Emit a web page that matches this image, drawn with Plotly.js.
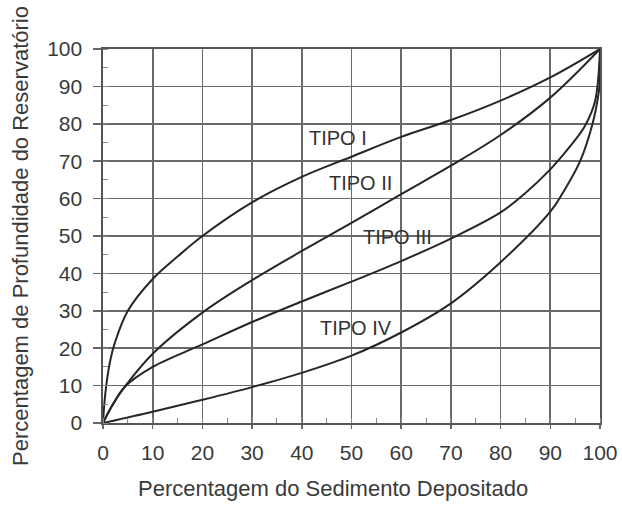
<!DOCTYPE html>
<html>
<head>
<meta charset="utf-8">
<script src="https://cdn.plot.ly/plotly-3.0.1.min.js"></script>
<style>html,body{margin:0;padding:0;background:#fff;}#chart{width:622px;height:505px;}</style>
</head>
<body>
<div id="chart"></div>
<script>
// Percentagem do Sedimento Depositado (x) vs Percentagem de Profundidade (y)
const tipo1X = [0, 0.2, 0.7, 1.5, 2.4, 5, 10, 15, 20, 30, 40, 50, 60, 70, 80, 90, 100];
const tipo1Y = [0, 4, 10.5, 17, 21.5, 30, 38.5, 44.5, 50, 59, 65.8, 71.2, 76.5, 81, 86.2, 92.4, 100];

const tipo2X = [0, 2, 4.4, 10, 20, 30, 40, 50, 60, 70, 80, 90, 100];
const tipo2Y = [0, 5, 9.7, 18.5, 29.5, 38.2, 46, 53.5, 61.2, 68.8, 77, 87, 100];

const tipo3X = [0, 2, 4.4, 10, 20, 30, 40, 50, 60, 70, 80, 85, 90, 94, 97, 99, 100];
const tipo3Y = [0, 5, 9.7, 15, 21, 27, 32.5, 37.8, 43.3, 49.3, 56.3, 61.5, 67.8, 74, 79.5, 86, 100];

const tipo4X = [0, 10, 20, 30, 40, 50, 60, 70, 80, 90, 92.5, 96, 98.5, 99.7, 100, 100];
const tipo4Y = [0, 3, 6.2, 9.6, 13.4, 18, 24.2, 32, 43, 56.5, 61.5, 70, 80, 88, 92, 100];

const labelText = ["TIPO I", "TIPO II", "TIPO III", "TIPO IV"];
const labelX = [47.3, 51.9, 59.2, 50.9];
const labelY = [76.2, 64.2, 49.7, 25.4];

const tickVals = [0, 10, 20, 30, 40, 50, 60, 70, 80, 90, 100];
const tickText = ["0", "10", "20", "30", "40", "50", "60", "70", "80", "90", "100"];

const xTitle = "Percentagem do Sedimento Depositado";
const yTitle = "Percentagem de Profundidade do Reservatório";

const lineStyle = {color: '#262626', width: 2, shape: 'spline', smoothing: 1};
const series = [[tipo1X, tipo1Y], [tipo2X, tipo2Y], [tipo3X, tipo3Y], [tipo4X, tipo4Y]];
const traces = series.map((s, i) => ({
  x: s[0], y: s[1], type: 'scatter', mode: 'lines', name: labelText[i],
  line: lineStyle, hoverinfo: 'skip', showlegend: false
}));

const font = {family: 'Liberation Sans, Arial, sans-serif', color: '#333'};

const axisBase = {
  range: [0, 100], tickvals: tickVals, ticktext: tickText,
  showgrid: true, gridcolor: '#6a6a6a', gridwidth: 1.6,
  showline: true, mirror: true, linecolor: '#555', linewidth: 1.6,
  zeroline: false, ticks: 'outside', tickcolor: '#666', tickwidth: 1.5,
  tickfont: {family: font.family, size: 21, color: '#3a3a3a'},
  minor: {dtick: 5, ticks: 'inside', ticklen: 5, tickcolor: '#888', tickwidth: 1, showgrid: false},
  fixedrange: true
};

const layout = {
  width: 622, height: 505,
  margin: {l: 103, r: 22, t: 49, b: 82},
  paper_bgcolor: '#fff', plot_bgcolor: '#fff',
  font: font,
  showlegend: false,
  xaxis: Object.assign({}, axisBase, {
    ticklen: 4, ticklabelstandoff: 6
  }),
  yaxis: Object.assign({}, axisBase, {
    ticklen: 8, ticklabelstandoff: 7,
    title: {text: yTitle, font: {family: font.family, size: 22, color: '#3a3a3a'}, standoff: 12}
  }),
  annotations: labelText.map((t, i) => ({
    x: labelX[i], y: labelY[i], xref: 'x', yref: 'y', text: t, showarrow: false,
    font: {family: font.family, size: 20, color: '#333'}, bgcolor: 'rgba(0,0,0,0)'
  })).concat([{
    x: 0.463, y: -0.174, xref: 'paper', yref: 'paper', text: xTitle, showarrow: false,
    xanchor: 'center', yanchor: 'middle',
    font: {family: font.family, size: 22, color: '#3a3a3a'}
  }])
};

Plotly.newPlot('chart', traces, layout, {staticPlot: true, displayModeBar: false});
</script>
</body>
</html>
